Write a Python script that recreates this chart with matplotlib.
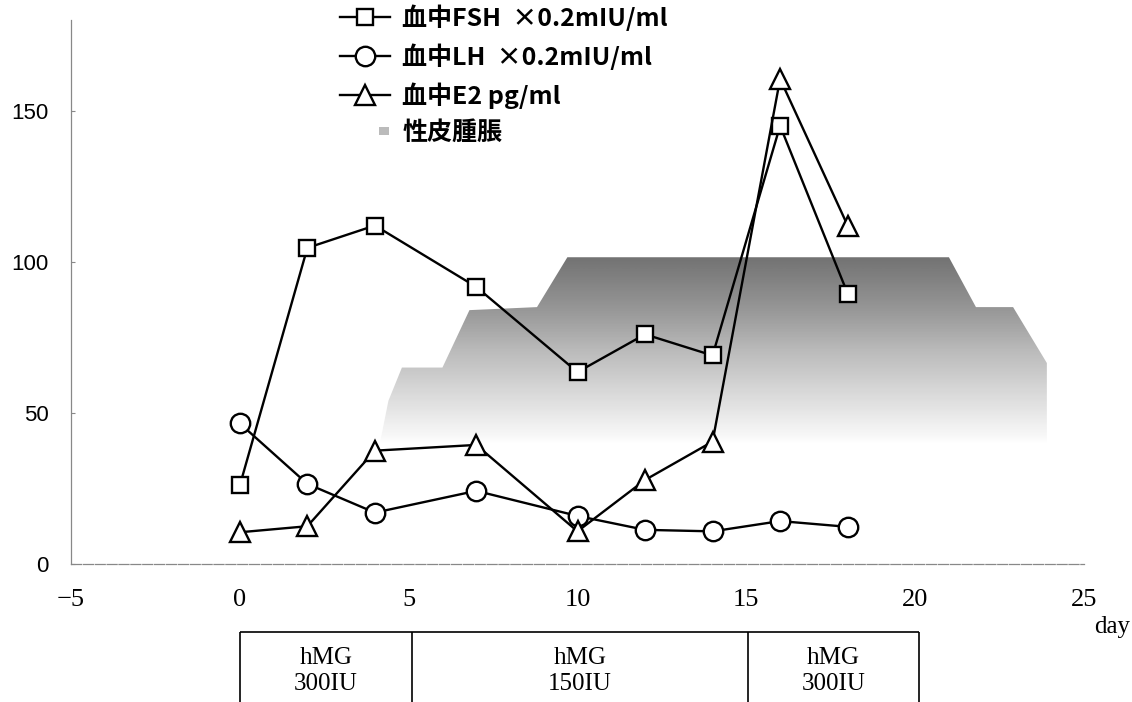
import numpy as np
import matplotlib
matplotlib.use("Agg")
import matplotlib.pyplot as plt
import matplotlib.patches as mpatches
from matplotlib.lines import Line2D
from matplotlib.legend_handler import HandlerPatch

plt.rcParams['font.family'] = ['Noto Sans CJK JP', 'DejaVu Sans']

# sampling days
days = [0, 2, 4, 7, 10, 12, 14, 16, 18]

# hormone levels
fsh = [26, 104.6, 112, 91.7, 63.5, 76, 69, 145, 89.5]
lh = [46.5, 26.5, 17, 24.2, 15.9, 11.3, 10.8, 14.2, 12.3]
e2 = [10.5, 12.5, 37.5, 39.4, 10.8, 27.8, 40.5, 160.5, 112]

# sex skin swelling (stepped gray band): outline top, bottom fades out at 40
swell_x = [4.15, 4.4, 4.8, 6.0, 6.8, 8.8, 9.7, 21.0, 21.8, 22.9, 23.9, 23.9]
swell_top = [40, 54, 65, 65, 84, 85, 101.5, 101.5, 85, 85, 66.5, 40]
swell_base = 40

# hMG dosing schedule
dose_edges = [0, 5.1, 15.05, 20.1]
dose_labels = ['hMG\n300IU', 'hMG\n150IU', 'hMG\n300IU']

xticks = [-5, 0, 5, 10, 15, 20, 25]
yticks = [0, 50, 100, 150]

fig = plt.figure(figsize=(11.32, 7.02), dpi=100)
ax = fig.add_axes([71 / 1132, 138 / 702, 1013 / 1132, 544 / 702])
ax.set_xlim(-5, 25)
ax.set_ylim(0, 180)

# gradient band clipped to the swelling outline
poly = mpatches.Polygon(list(zip(swell_x, swell_top)) + [(swell_x[-1], swell_base), (swell_x[0], swell_base)],
                        closed=True, facecolor='none', edgecolor='none')
ax.add_patch(poly)
grad = np.linspace(0.0, 1.0, 200).reshape(-1, 1) ** 0.7
img = ax.imshow(grad, cmap='Greys', vmin=0, vmax=1.6, origin='lower', aspect='auto',
                extent=[min(swell_x), max(swell_x), swell_base, max(swell_top)], zorder=1)
img.set_clip_path(poly)

mk = dict(color='black', lw=1.7, markerfacecolor='white', markeredgecolor='black', markeredgewidth=1.7, zorder=3)
ax.plot(days, fsh, marker='s', markersize=11, **mk)
ax.plot(days, lh, marker='o', markersize=14, **mk)
ax.plot(days, e2, marker='^', markersize=14, **mk)

for s in ['top', 'right']:
    ax.spines[s].set_visible(False)
for s in ['left', 'bottom']:
    ax.spines[s].set_color('#888888')
    ax.spines[s].set_linewidth(0.9)
ax.spines['bottom'].set_linestyle((0, (8, 1.5)))

ax.set_xticks(xticks)
ax.set_yticks(yticks)
ax.tick_params(axis='y', direction='in', length=3, color='#888888', pad=16)
ax.tick_params(axis='x', direction='in', length=0, pad=18)
for t in ax.get_yticklabels():
    t.set_family('Liberation Sans')
    t.set_fontsize(16)
for t in ax.get_xticklabels():
    t.set_family('Liberation Serif')
    t.set_fontsize(19)

fig.text(1112 / 1132, 1 - 627 / 702, 'day', family='Liberation Serif', fontsize=18,
         ha='center', va='center')

# legend
def small_patch(legend, orig_handle, xdescent, ydescent, width, height, fontsize):
    return mpatches.Rectangle((width * 0.78 - xdescent, -ydescent + height * 0.3), width * 0.2, height * 0.45)

h_fsh = Line2D([], [], marker='s', markersize=11, **mk)
h_lh = Line2D([], [], marker='o', markersize=14, **mk)
h_e2 = Line2D([], [], marker='^', markersize=14, **mk)
h_sw = mpatches.Patch(facecolor='#bbbbbb', edgecolor='none')
leg = fig.legend([h_fsh, h_lh, h_e2, h_sw],
                 ['血中FSH  ×0.2mIU/ml', '血中LH  ×0.2mIU/ml', '血中E2 pg/ml', '性皮腫脹'],
                 loc='upper left', bbox_to_anchor=(340 / 1132, 1 - 4 / 702), frameon=False,
                 prop={'size': 18, 'weight': 'bold'}, handlelength=2.0, handletextpad=0.5,
                 labelspacing=0.5, borderaxespad=0.0, borderpad=0.0,
                 handler_map={h_sw: HandlerPatch(patch_func=small_patch)})

# dosing table
tab = fig.add_axes([71 / 1132, 0, 1013 / 1132, 70 / 702])
tab.set_xlim(-5, 25)
tab.set_ylim(0, 1)
tab.axis('off')
tab.hlines(1, dose_edges[0], dose_edges[-1], color='black', lw=1.2, clip_on=False)
tab.vlines(dose_edges, 0, 1, color='black', lw=1.2, clip_on=False)
for i, lab in enumerate(dose_labels):
    cx = (dose_edges[i] + dose_edges[i + 1]) / 2
    tab.text(cx, 0.44, lab, ha='center', va='center', family='Liberation Serif',
             fontsize=18, linespacing=1.2)

fig.savefig('out.png', dpi=100)
